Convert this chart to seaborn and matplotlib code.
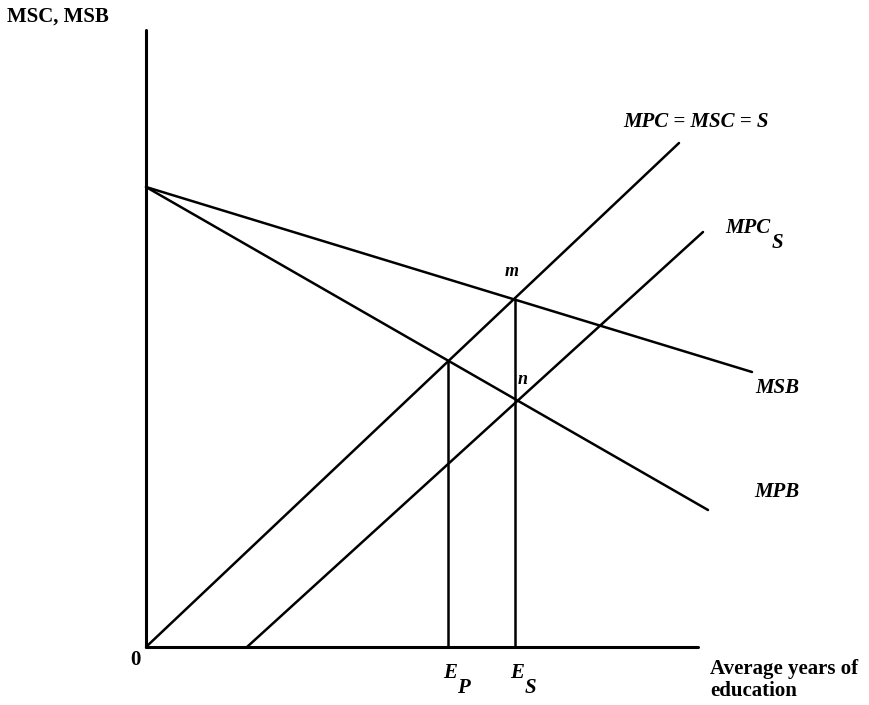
import matplotlib
matplotlib.use("Agg")
import matplotlib.pyplot as plt
import seaborn as sns
import pandas as pd

# curve end points (x = years of education, y = MSC/MSB)
curve_names = ["MSB", "MPB", "MPC = MSC = S", "MPC_S"]
curve_x0 = [0, 0, 0, 101]
curve_y0 = [460, 460, 0, 0]
curve_x1 = [606, 562, 533, 557]
curve_y1 = [275, 137, 504, 415]

# vertical drop lines
drop_names = ["E_P", "E_S"]
drop_x = [302, 369]
drop_top = [286, 348]

axis_xmax = 552
axis_ymax = 617

sns.set_style("white")
plt.rcParams["font.family"] = ["Liberation Serif", "DejaVu Serif"]

fig = plt.figure(figsize=(8.69, 7.05), dpi=100)
ax = fig.add_axes([0, 0, 1, 1])

rows = []
for n, x0, y0, x1, y1 in zip(curve_names, curve_x0, curve_y0, curve_x1, curve_y1):
    rows.append({"curve": n, "x": x0, "y": y0})
    rows.append({"curve": n, "x": x1, "y": y1})
for n, x, top in zip(drop_names, drop_x, drop_top):
    rows.append({"curve": n, "x": x, "y": 0})
    rows.append({"curve": n, "x": x, "y": top})
df = pd.DataFrame(rows)

sns.lineplot(data=df, x="x", y="y", units="curve", estimator=None, sort=False,
             color="black", lw=1.8, ax=ax, legend=False)

# axes
axes_df = pd.DataFrame({"line": ["y", "y", "x", "x"],
                        "x": [0, 0, 0, axis_xmax],
                        "y": [axis_ymax, 0, 0, 0]})
sns.lineplot(data=axes_df, x="x", y="y", units="line", estimator=None, sort=False,
             color="black", lw=2.2, ax=ax, legend=False)

ax.set_xlim(-146, 723)
ax.set_ylim(-58, 647)
ax.axis("off")

bold = dict(fontweight="bold", color="black")
ital = dict(fontweight="bold", fontstyle="italic", color="black")

ax.text(-139, 630, "MSC, MSB", fontsize=15, va="center", ha="left", **bold)
ax.text(-11, -13, "0", fontsize=15, va="center", ha="center", **bold)
ax.text(564, -33, "Average years of\neducation", fontsize=15, va="center", ha="left",
        linespacing=1.15, **bold)

ax.text(477, 525, "MPC = MSC = S", fontsize=15, va="center", ha="left", **ital)
ax.text(579, 419, "MPC", fontsize=15, va="center", ha="left", **ital)
ax.text(631, 404, "S", fontsize=15, va="center", ha="center", **ital)
ax.text(609, 259, "MSB", fontsize=15, va="center", ha="left", **ital)
ax.text(608, 155, "MPB", fontsize=15, va="center", ha="left", **ital)
ax.text(366, 376, "m", fontsize=13, va="center", ha="center", **ital)
ax.text(377, 268, "n", fontsize=13, va="center", ha="center", **ital)

for n, x in zip(drop_names, drop_x):
    ax.text(x + 2, -26, n[0], fontsize=15, va="center", ha="center", **ital)
    ax.text(x + 15, -41, n[2], fontsize=15, va="center", ha="center", **ital)

fig.savefig("out.png", dpi=100, facecolor="white")
